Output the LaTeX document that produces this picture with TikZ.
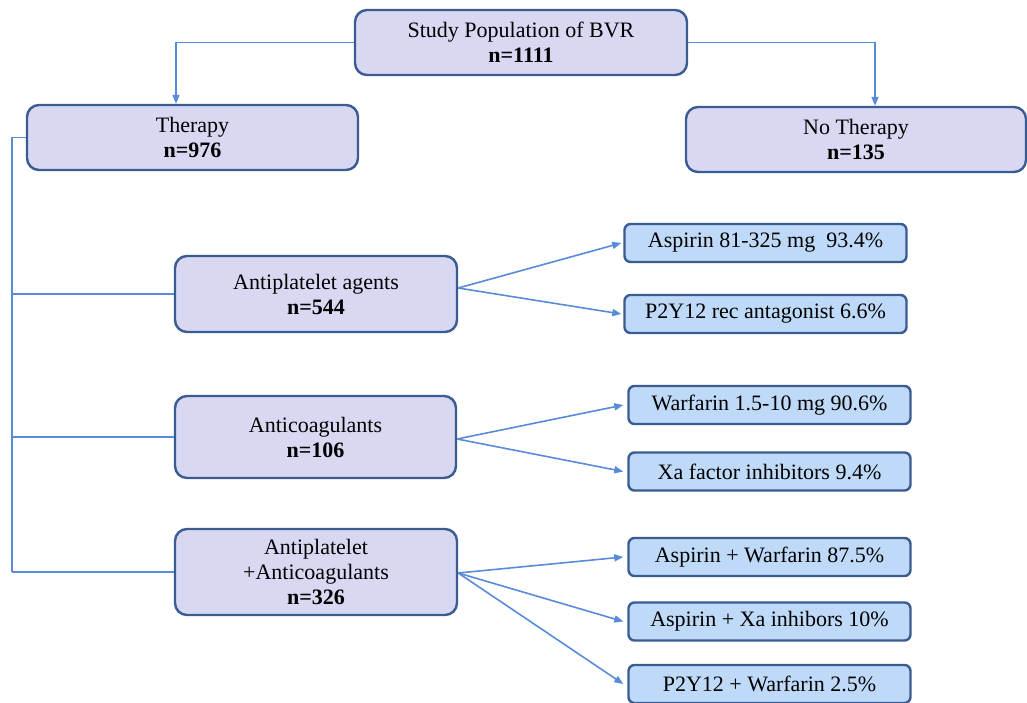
\documentclass[tikz,border=0pt]{standalone}
\usepackage{fontspec}
\setmainfont{Liberation Serif}
\usetikzlibrary{arrows.meta}
\definecolor{grpfill}{RGB}{217,216,242}
\definecolor{drugfill}{RGB}{190,218,248}
\definecolor{boxline}{RGB}{58,92,145}
\definecolor{linkcol}{RGB}{88,140,218}
\begin{document}
\begin{tikzpicture}[x=0.5pt,y=-0.5pt,
  grpbox/.style={draw=boxline,fill=grpfill,line width=1.2pt,rounded corners=6pt,
    align=center,inner sep=0pt,font=\fontsize{11}{12.5}\selectfont},
  drugbox/.style={draw=boxline,fill=drugfill,line width=1.2pt,rounded corners=3pt,
    align=center,inner sep=0pt,minimum width=141pt,minimum height=19pt,
    font=\fontsize{11}{12.5}\selectfont},
  link/.style={draw=linkcol,line width=0.8pt},
  tip/.style={link,-{Triangle[length=4.5pt,width=3.5pt]}}]
\clip (0,0) rectangle (1027,702);
\fill[white] (0,0) rectangle (1027,702);
% groups
\node[grpbox,minimum width=166pt,minimum height=32.5pt] (study) at (521,42.5)
  {Study Population of BVR\\\textbf{n=1111}};
\node[grpbox,minimum width=165.5pt,minimum height=32.5pt] (therapy) at (192.5,137.5)
  {Therapy\\\textbf{n=976}};
\node[grpbox,minimum width=170pt,minimum height=32.5pt] (notherapy) at (856,139.5)
  {No Therapy\\\textbf{n=135}};
\node[grpbox,minimum width=141pt,minimum height=38pt] (antiplt) at (316,294)
  {Antiplatelet agents\\\textbf{n=544}};
\node[grpbox,minimum width=140.5pt,minimum height=41pt] (anticoag) at (315.5,437)
  {Anticoagulants\\\textbf{n=106}};
\node[grpbox,minimum width=141pt,minimum height=43pt] (combo) at (316,572)
  {Antiplatelet\\+Anticoagulants\\\textbf{n=326}};
% drugs
\node[drugbox] (asp) at (765.5,243) {Aspirin 81-325 mg\ \ 93.4\%};
\node[drugbox] (ptwo) at (765.5,314) {P2Y12 rec antagonist 6.6\%};
\node[drugbox] (warf) at (769.5,405) {Warfarin 1.5-10 mg 90.6\%};
\node[drugbox] (xa) at (769.5,471.5) {Xa factor inhibitors 9.4\%};
\node[drugbox] (aspwarf) at (769.5,557) {Aspirin + Warfarin 87.5\%};
\node[drugbox] (aspxa) at (769.5,621.5) {Aspirin + Xa inhibors 10\%};
\node[drugbox] (ptwowarf) at (769.5,684) {P2Y12 + Warfarin 2.5\%};
% top split
\draw[tip] (study.west) -| ([xshift=-8.25pt]therapy.north);
\draw[tip] (study.east) -| ([xshift=9.5pt]notherapy.north);
% trunk
\coordinate (trunk) at (12,572);
\draw[link] (therapy.west) -| (trunk);
\draw[link] (antiplt.west) -- (antiplt.west -| trunk);
\draw[link] (anticoag.west) -- (anticoag.west -| trunk);
\draw[link] (combo.west) -- (trunk);
% branches
\coordinate (aout) at ([yshift=3pt]antiplt.east);
\coordinate (cout) at ([yshift=-1pt]anticoag.east);
\coordinate (mout) at ([yshift=-0.5pt]combo.east);
\draw[tip] (aout) -- ([xshift=-1pt]asp.west);
\draw[tip] (aout) -- ([xshift=-1pt]ptwo.west);
\draw[tip] (cout) -- ([xshift=-2pt]warf.west);
\draw[tip] (cout) -- ([xshift=-2pt]xa.west);
\draw[tip] (mout) -- ([xshift=-2pt]aspwarf.west);
\draw[tip] (mout) -- ([xshift=-2pt]aspxa.west);
\draw[tip] (mout) -- ([xshift=-2pt]ptwowarf.west);
\end{tikzpicture}
\end{document}
